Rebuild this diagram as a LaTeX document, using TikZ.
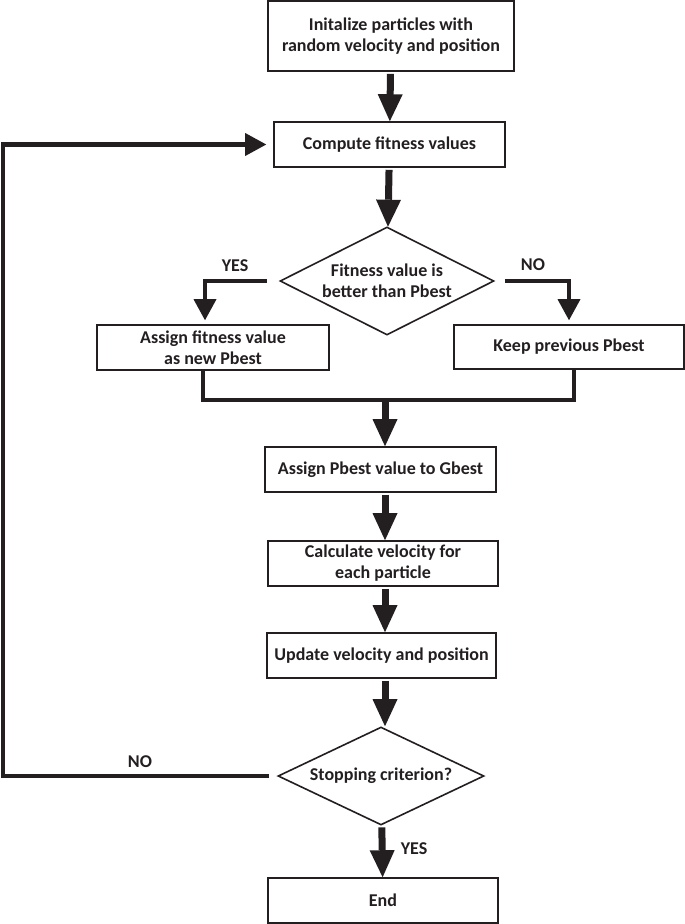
\documentclass[tikz,border=0pt]{standalone}
\usepackage{fontspec}
\setmainfont{Carlito}
\usetikzlibrary{shapes.geometric}
\usetikzlibrary{arrows.meta}
\definecolor{ink}{RGB}{35,31,32}

\begin{document}
\begin{tikzpicture}[x=1pt,y=-1pt, color=ink,
	font=\fontsize{18}{21}\selectfont\bfseries,
	box/.style={draw, line width=1.6pt, align=center, inner sep=0pt, minimum height=45pt},
	dec/.style={draw, diamond, aspect=2, line width=1.6pt, align=center, inner sep=0pt},
	bigarrow/.style={line width=7pt, -{Triangle[width=25pt,length=27pt,line width=0pt]}, shorten <=2pt},
	branch/.style={line width=4.5pt},
	brancharrow/.style={branch, -{Triangle[width=23pt,length=21pt,line width=0pt]}},
	lbl/.style={inner sep=0pt}]
	%% canvas
	\useasboundingbox (0,0) rectangle (685,924);
	%% boxes
	\node[box, minimum width=246pt, minimum height=70pt] (init) at (391,36) {Initalize particles with\\random velocity and position};
	\node[box, minimum width=231pt] (fit) at (389.5,144.5) {Compute fitness values};
	\node[dec, minimum width=214pt, minimum height=108pt] (dec1) at (387,281) {Fitness value is\\better than Pbest};
	\node[box, minimum width=232pt] (yesbox) at (213,347.5) {Assign fitness value\\as new Pbest};
	\node[box, minimum width=230pt, minimum height=44pt] (nobox) at (569,347) {Keep previous Pbest};
	\coordinate (merge) at (385,400);
	\node[box, minimum width=231pt] (gbest) at (380.5,469.5) {Assign Pbest value to Gbest};
	\node[box, minimum width=230pt] (vel) at (383,563.5) {Calculate velocity for\\each particle};
	\node[box, minimum width=229pt] (upd) at (381.5,655.5) {Update velocity and position};
	\node[dec, minimum width=206pt, minimum height=98pt] (dec2) at (381,776) {Stopping criterion?};
	\node[box, minimum width=230pt] (endbox) at (383,900.5) {End};
	\coordinate (back) at (3,460);
	%% labels
	\node[lbl] (yes1) at (235,266) {YES};
	\node[lbl] (no1) at (533,265) {NO};
	\node[lbl] (no2) at (140,762) {NO};
	\node[lbl] (yes2) at (414,849) {YES};
	%% main flow
	\draw[bigarrow] (init) -- (fit);
	\draw[bigarrow] (fit) -- (dec1);
	\draw[brancharrow, shorten >=4pt] ([xshift=-12pt]dec1.west) -| ([xshift=-8pt]yesbox.north);
	\draw[brancharrow, shorten >=4pt] ([xshift=10pt]dec1.east) -| (nobox.north);
	\draw[branch] ([xshift=-10pt]yesbox.south) |- (merge) -| ([xshift=5pt]nobox.south);
	\draw[bigarrow, shorten <=0pt] (merge) -- (merge |- gbest.north);
	\draw[bigarrow] (gbest.south -| merge) -- (vel.north -| merge);
	\draw[bigarrow] (vel.south -| merge) -- (upd.north -| merge);
	\draw[bigarrow] (upd.south -| merge) -- (dec2.north -| merge);
	\draw[bigarrow] (dec2) -- (endbox);
	%% loop back
	\draw[brancharrow] ([xshift=-8pt]dec2.west) -| (back) |- ([xshift=-7pt]fit.west);
\end{tikzpicture}
\end{document}
